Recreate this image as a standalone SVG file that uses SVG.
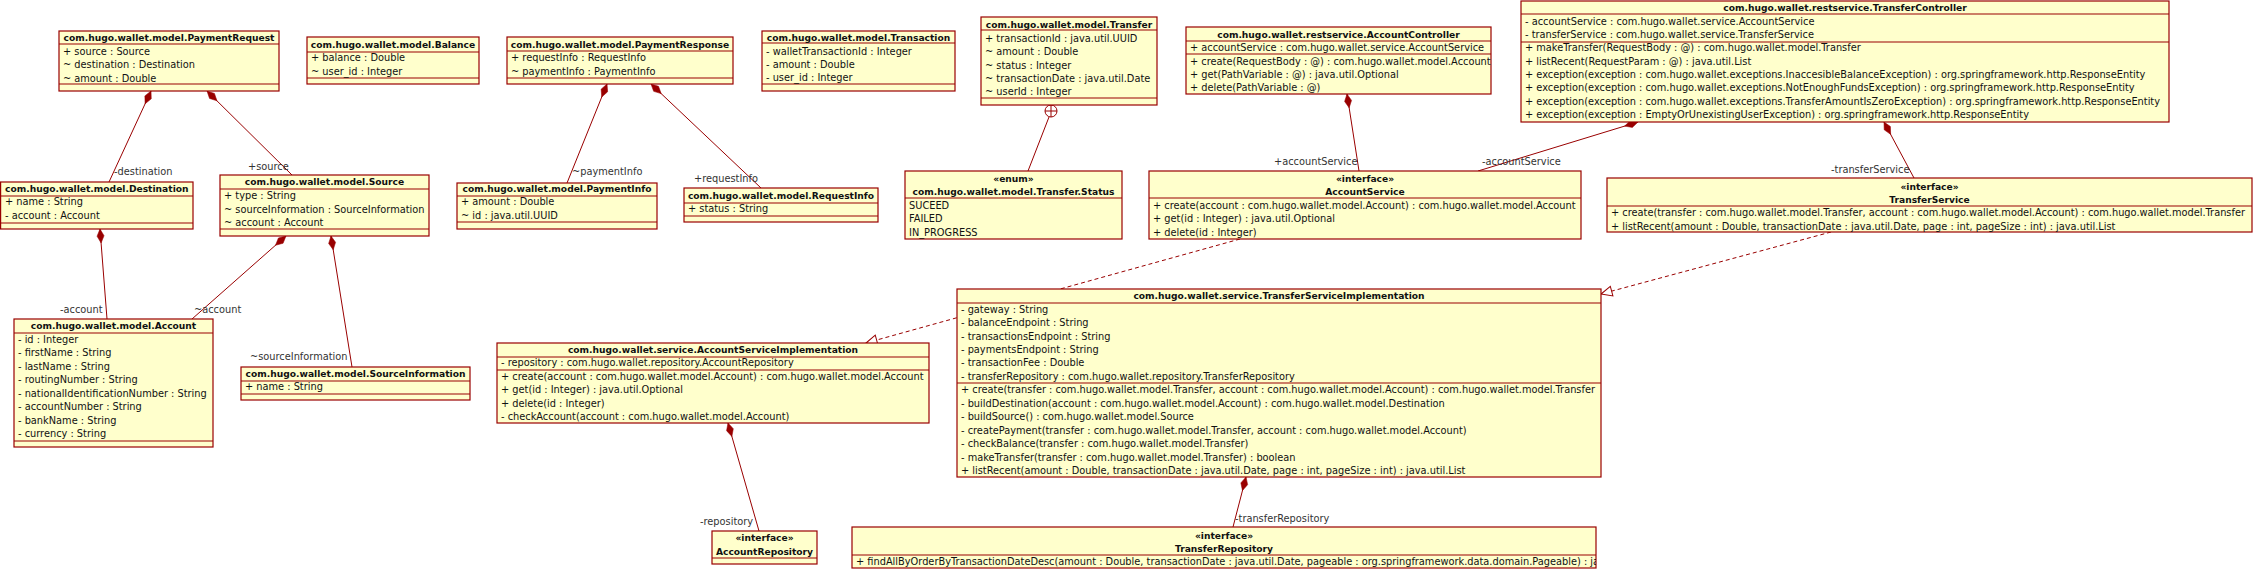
<svg xmlns="http://www.w3.org/2000/svg" width="2264" height="569" viewBox="0 0 2264 569">
<style>
.box{fill:#FFFFCC;stroke:#990000;stroke-width:1.2}
.sep{stroke:#990000;stroke-width:1.2}
text{font-family:"DejaVu Sans",sans-serif;font-size:9.8px;fill:#111}
.h{font-weight:bold;text-anchor:middle;font-size:9.15px}
.lbl{fill:#333}
.ln{stroke:#990000;stroke-width:1;fill:none}
.dash{stroke-dasharray:4,3}
</style>
<defs>
<marker id="dia" overflow="visible" orient="auto" markerUnits="userSpaceOnUse" refX="0" refY="0" markerWidth="16" markerHeight="10"><path d="M0,0 L7,-3.5 L14,0 L7,3.5 Z" fill="#990000" stroke="#990000" stroke-width="0.5"/></marker>
<marker id="tri" overflow="visible" orient="auto" markerUnits="userSpaceOnUse" refX="0" refY="0" markerWidth="14" markerHeight="12"><path d="M0,0 L-11,-5 L-11,5 Z" fill="#ffffff" stroke="#990000" stroke-width="1" stroke-dasharray="none"/></marker>
<clipPath id="clipTR"><rect x="852" y="527" width="744" height="41"/></clipPath>
</defs>

<g id="connectors">
<path class="ln" marker-start="url(#dia)" d="M151,91 L109,182"/>
<path class="ln" marker-start="url(#dia)" d="M207,91 L292,175"/>
<path class="ln" marker-start="url(#dia)" d="M100,229 L107,319"/>
<path class="ln" marker-start="url(#dia)" d="M286,236 L192,319"/>
<path class="ln" marker-start="url(#dia)" d="M331,236 L352,367"/>
<path class="ln" marker-start="url(#dia)" d="M607,84 L567,183"/>
<path class="ln" marker-start="url(#dia)" d="M651,84 L761,188"/>
<circle cx="1051" cy="111" r="6" fill="#ffffff" stroke="#990000" stroke-width="1"/>
<path class="ln" d="M1045,111 L1057,111 M1051,105 L1051,117"/>
<path class="ln" d="M1049,117 L1028,171"/>
<path class="ln" marker-start="url(#dia)" d="M1347,94 L1359,171"/>
<path class="ln" marker-start="url(#dia)" d="M1638,122 L1478,171"/>
<path class="ln" marker-start="url(#dia)" d="M1884,122 L1914,178"/>
<path class="ln dash" marker-end="url(#tri)" d="M1240,239 L866,343"/>
<path class="ln dash" marker-end="url(#tri)" d="M1831,232 L1601,294"/>
<path class="ln" marker-start="url(#dia)" d="M728,423 L759,531"/>
<path class="ln" marker-start="url(#dia)" d="M1246,477 L1233,527"/>
<text class="lbl" x="114" y="175.3">-destination</text>
<text class="lbl" x="248" y="170">+source</text>
<text class="lbl" x="60" y="313.3">-account</text>
<text class="lbl" x="194" y="313.3">~account</text>
<text class="lbl" x="250" y="360.3">~sourceInformation</text>
<text class="lbl" x="572" y="175.3">~paymentInfo</text>
<text class="lbl" x="694" y="182.3">+requestInfo</text>
<text class="lbl" x="1274" y="165.3">+accountService</text>
<text class="lbl" x="1482" y="165.3">-accountService</text>
<text class="lbl" x="1831" y="173.3">-transferService</text>
<text class="lbl" x="700" y="525.3">-repository</text>
<text class="lbl" x="1235" y="522.3">-transferRepository</text>
</g>

<g id="PaymentRequest">
<rect class="box" x="59" y="31" width="220" height="60"/>
<line class="sep" x1="59" y1="44" x2="279" y2="44"/><line class="sep" x1="59" y1="84" x2="279" y2="84"/>
<text class="h" x="169" y="40.6">com.hugo.wallet.model.PaymentRequest</text>
<text x="63" y="55">+ source : Source</text>
<text x="63" y="68.3">~ destination : Destination</text>
<text x="63" y="81.6">~ amount : Double</text>
</g>

<g id="Balance">
<rect class="box" x="307" y="37" width="172" height="47"/>
<line class="sep" x1="307" y1="52" x2="479" y2="52"/><line class="sep" x1="307" y1="78" x2="479" y2="78"/>
<text class="h" x="393" y="48.3">com.hugo.wallet.model.Balance</text>
<text x="311" y="61">+ balance : Double</text>
<text x="311" y="75">~ user_id : Integer</text>
</g>

<g id="PaymentResponse">
<rect class="box" x="507" y="37" width="226" height="47"/>
<line class="sep" x1="507" y1="51" x2="733" y2="51"/><line class="sep" x1="507" y1="78" x2="733" y2="78"/>
<text class="h" x="620" y="48.3">com.hugo.wallet.model.PaymentResponse</text>
<text x="511" y="61">+ requestInfo : RequestInfo</text>
<text x="511" y="75">~ paymentInfo : PaymentInfo</text>
</g>

<g id="Transaction">
<rect class="box" x="762" y="31" width="193" height="60"/>
<line class="sep" x1="762" y1="43" x2="955" y2="43"/><line class="sep" x1="762" y1="84" x2="955" y2="84"/>
<text class="h" x="858.5" y="41">com.hugo.wallet.model.Transaction</text>
<text x="766" y="55.3">- walletTransactionId : Integer</text>
<text x="766" y="68.3">- amount : Double</text>
<text x="766" y="81.3">- user_id : Integer</text>
</g>

<g id="Transfer">
<rect class="box" x="981" y="17" width="176" height="88"/>
<line class="sep" x1="981" y1="30" x2="1157" y2="30"/><line class="sep" x1="981" y1="98" x2="1157" y2="98"/>
<text class="h" x="1069" y="28">com.hugo.wallet.model.Transfer</text>
<text x="985" y="42.3">+ transactionId : java.util.UUID</text>
<text x="985" y="55.3">~ amount : Double</text>
<text x="985" y="68.8">~ status : Integer</text>
<text x="985" y="82.3">~ transactionDate : java.util.Date</text>
<text x="985" y="95.3">~ userId : Integer</text>
</g>

<g id="AccountController">
<rect class="box" x="1186" y="27" width="305" height="67"/>
<line class="sep" x1="1186" y1="41" x2="1491" y2="41"/><line class="sep" x1="1186" y1="54" x2="1491" y2="54"/>
<text class="h" x="1338.5" y="38.3">com.hugo.wallet.restservice.AccountController</text>
<text x="1190" y="51.3">+ accountService : com.hugo.wallet.service.AccountService</text>
<text x="1190" y="65.3">+ create(RequestBody : @) : com.hugo.wallet.model.Account</text>
<text x="1190" y="78.3">+ get(PathVariable : @) : java.util.Optional</text>
<text x="1190" y="91.3">+ delete(PathVariable : @)</text>
</g>

<g id="TransferController">
<rect class="box" x="1521" y="1" width="648" height="121"/>
<line class="sep" x1="1521" y1="14" x2="2169" y2="14"/><line class="sep" x1="1521" y1="42" x2="2169" y2="42"/>
<text class="h" x="1845" y="11.3">com.hugo.wallet.restservice.TransferController</text>
<text x="1525" y="25.3">- accountService : com.hugo.wallet.service.AccountService</text>
<text x="1525" y="38.3">- transferService : com.hugo.wallet.service.TransferService</text>
<text x="1525" y="51.3">+ makeTransfer(RequestBody : @) : com.hugo.wallet.model.Transfer</text>
<text x="1525" y="65.3">+ listRecent(RequestParam : @) : java.util.List</text>
<text x="1525" y="78.3">+ exception(exception : com.hugo.wallet.exceptions.InaccesibleBalanceException) : org.springframework.http.ResponseEntity</text>
<text x="1525" y="91.3">+ exception(exception : com.hugo.wallet.exceptions.NotEnoughFundsException) : org.springframework.http.ResponseEntity</text>
<text x="1525" y="105.3">+ exception(exception : com.hugo.wallet.exceptions.TransferAmountIsZeroException) : org.springframework.http.ResponseEntity</text>
<text x="1525" y="118.3">+ exception(exception : EmptyOrUnexistingUserException) : org.springframework.http.ResponseEntity</text>
</g>

<g id="Destination">
<rect class="box" x="0.6" y="182" width="192.4" height="47"/>
<line class="sep" x1="0.6" y1="196" x2="193" y2="196"/><line class="sep" x1="0.6" y1="223" x2="193" y2="223"/>
<text class="h" x="96.8" y="192.3">com.hugo.wallet.model.Destination</text>
<text x="5" y="205.3">+ name : String</text>
<text x="5" y="219.3">- account : Account</text>
</g>

<g id="Source">
<rect class="box" x="220" y="175" width="209" height="61"/>
<line class="sep" x1="220" y1="189" x2="429" y2="189"/><line class="sep" x1="220" y1="229" x2="429" y2="229"/>
<text class="h" x="324.5" y="185.3">com.hugo.wallet.model.Source</text>
<text x="224" y="199.3">+ type : String</text>
<text x="224" y="213.3">~ sourceInformation : SourceInformation</text>
<text x="224" y="226.3">~ account : Account</text>
</g>

<g id="PaymentInfo">
<rect class="box" x="457" y="183" width="200" height="46"/>
<line class="sep" x1="457" y1="196" x2="657" y2="196"/><line class="sep" x1="457" y1="222" x2="657" y2="222"/>
<text class="h" x="557" y="192.3">com.hugo.wallet.model.PaymentInfo</text>
<text x="461" y="205.3">+ amount : Double</text>
<text x="461" y="219">~ id : java.util.UUID</text>
</g>

<g id="RequestInfo">
<rect class="box" x="684" y="188" width="194" height="34"/>
<line class="sep" x1="684" y1="203" x2="878" y2="203"/><line class="sep" x1="684" y1="216" x2="878" y2="216"/>
<text class="h" x="781" y="199.3">com.hugo.wallet.model.RequestInfo</text>
<text x="688" y="212.3">+ status : String</text>
</g>

<g id="TransferStatus">
<rect class="box" x="905" y="171" width="217" height="68"/>
<line class="sep" x1="905" y1="198" x2="1122" y2="198"/>
<text class="h" x="1013.5" y="182.3">«enum»</text>
<text class="h" x="1013.5" y="195.3">com.hugo.wallet.model.Transfer.Status</text>
<text x="909" y="209.3">SUCEED</text>
<text x="909" y="222.3">FAILED</text>
<text x="909" y="236.3">IN_PROGRESS</text>
</g>

<g id="AccountService">
<rect class="box" x="1149" y="171" width="432" height="68"/>
<line class="sep" x1="1149" y1="198" x2="1581" y2="198"/>
<text class="h" x="1365" y="182.3">«interface»</text>
<text class="h" x="1365" y="195.3">AccountService</text>
<text x="1153" y="209.3">+ create(account : com.hugo.wallet.model.Account) : com.hugo.wallet.model.Account</text>
<text x="1153" y="222.3">+ get(id : Integer) : java.util.Optional</text>
<text x="1153" y="236.3">+ delete(id : Integer)</text>
</g>

<g id="TransferService">
<rect class="box" x="1607" y="178" width="645" height="54"/>
<line class="sep" x1="1607" y1="206" x2="2252" y2="206"/>
<text class="h" x="1929.5" y="190">«interface»</text>
<text class="h" x="1929.5" y="202.6">TransferService</text>
<text x="1611" y="216">+ create(transfer : com.hugo.wallet.model.Transfer, account : com.hugo.wallet.model.Account) : com.hugo.wallet.model.Transfer</text>
<text x="1611" y="229.5">+ listRecent(amount : Double, transactionDate : java.util.Date, page : int, pageSize : int) : java.util.List</text>
</g>

<g id="Account">
<rect class="box" x="14" y="319" width="199" height="128"/>
<line class="sep" x1="14" y1="333" x2="213" y2="333"/><line class="sep" x1="14" y1="441" x2="213" y2="441"/>
<text class="h" x="113.5" y="329.3">com.hugo.wallet.model.Account</text>
<text x="18" y="343.3">- id : Integer</text>
<text x="18" y="356.3">- firstName : String</text>
<text x="18" y="370.3">- lastName : String</text>
<text x="18" y="383.3">- routingNumber : String</text>
<text x="18" y="397.3">- nationalIdentificationNumber : String</text>
<text x="18" y="410.3">- accountNumber : String</text>
<text x="18" y="424.3">- bankName : String</text>
<text x="18" y="437.3">- currency : String</text>
</g>

<g id="SourceInformation">
<rect class="box" x="241" y="367" width="229" height="33"/>
<line class="sep" x1="241" y1="381" x2="470" y2="381"/><line class="sep" x1="241" y1="394" x2="470" y2="394"/>
<text class="h" x="355.5" y="377.3">com.hugo.wallet.model.SourceInformation</text>
<text x="245" y="390.3">+ name : String</text>
</g>

<g id="AccountServiceImplementation">
<rect class="box" x="497" y="343" width="432" height="80"/>
<line class="sep" x1="497" y1="357" x2="929" y2="357"/><line class="sep" x1="497" y1="370" x2="929" y2="370"/>
<text class="h" x="713" y="353.3">com.hugo.wallet.service.AccountServiceImplementation</text>
<text x="501" y="366.3">- repository : com.hugo.wallet.repository.AccountRepository</text>
<text x="501" y="380.3">+ create(account : com.hugo.wallet.model.Account) : com.hugo.wallet.model.Account</text>
<text x="501" y="393.3">+ get(id : Integer) : java.util.Optional</text>
<text x="501" y="407.3">+ delete(id : Integer)</text>
<text x="501" y="420.3">- checkAccount(account : com.hugo.wallet.model.Account)</text>
</g>

<g id="TransferServiceImplementation">
<rect class="box" x="957" y="289" width="644" height="188"/>
<line class="sep" x1="957" y1="303" x2="1601" y2="303"/><line class="sep" x1="957" y1="383" x2="1601" y2="383"/>
<text class="h" x="1279" y="299.3">com.hugo.wallet.service.TransferServiceImplementation</text>
<text x="961" y="313.3">- gateway : String</text>
<text x="961" y="326.3">- balanceEndpoint : String</text>
<text x="961" y="340.3">- transactionsEndpoint : String</text>
<text x="961" y="353.3">- paymentsEndpoint : String</text>
<text x="961" y="366.3">- transactionFee : Double</text>
<text x="961" y="380.3">- transferRepository : com.hugo.wallet.repository.TransferRepository</text>
<text x="961" y="393.3">+ create(transfer : com.hugo.wallet.model.Transfer, account : com.hugo.wallet.model.Account) : com.hugo.wallet.model.Transfer</text>
<text x="961" y="407.3">- buildDestination(account : com.hugo.wallet.model.Account) : com.hugo.wallet.model.Destination</text>
<text x="961" y="420.3">- buildSource() : com.hugo.wallet.model.Source</text>
<text x="961" y="434.3">- createPayment(transfer : com.hugo.wallet.model.Transfer, account : com.hugo.wallet.model.Account)</text>
<text x="961" y="447.3">- checkBalance(transfer : com.hugo.wallet.model.Transfer)</text>
<text x="961" y="461.3">- makeTransfer(transfer : com.hugo.wallet.model.Transfer) : boolean</text>
<text x="961" y="474.3">+ listRecent(amount : Double, transactionDate : java.util.Date, page : int, pageSize : int) : java.util.List</text>
</g>

<g id="AccountRepository">
<rect class="box" x="712" y="531" width="105" height="33"/>
<line class="sep" x1="712" y1="558" x2="817" y2="558"/>
<text class="h" x="764.5" y="541.3">«interface»</text>
<text class="h" x="764.5" y="555">AccountRepository</text>
</g>

<g id="TransferRepository">
<rect class="box" x="852" y="527" width="744" height="41"/>
<line class="sep" x1="852" y1="555" x2="1596" y2="555"/>
<text class="h" x="1224" y="538.5">«interface»</text>
<text class="h" x="1224" y="551.5">TransferRepository</text>
<text x="856" y="565" clip-path="url(#clipTR)">+ findAllByOrderByTransactionDateDesc(amount : Double, transactionDate : java.util.Date, pageable : org.springframework.data.domain.Pageable) : java.util.List</text>
</g>
</svg>
